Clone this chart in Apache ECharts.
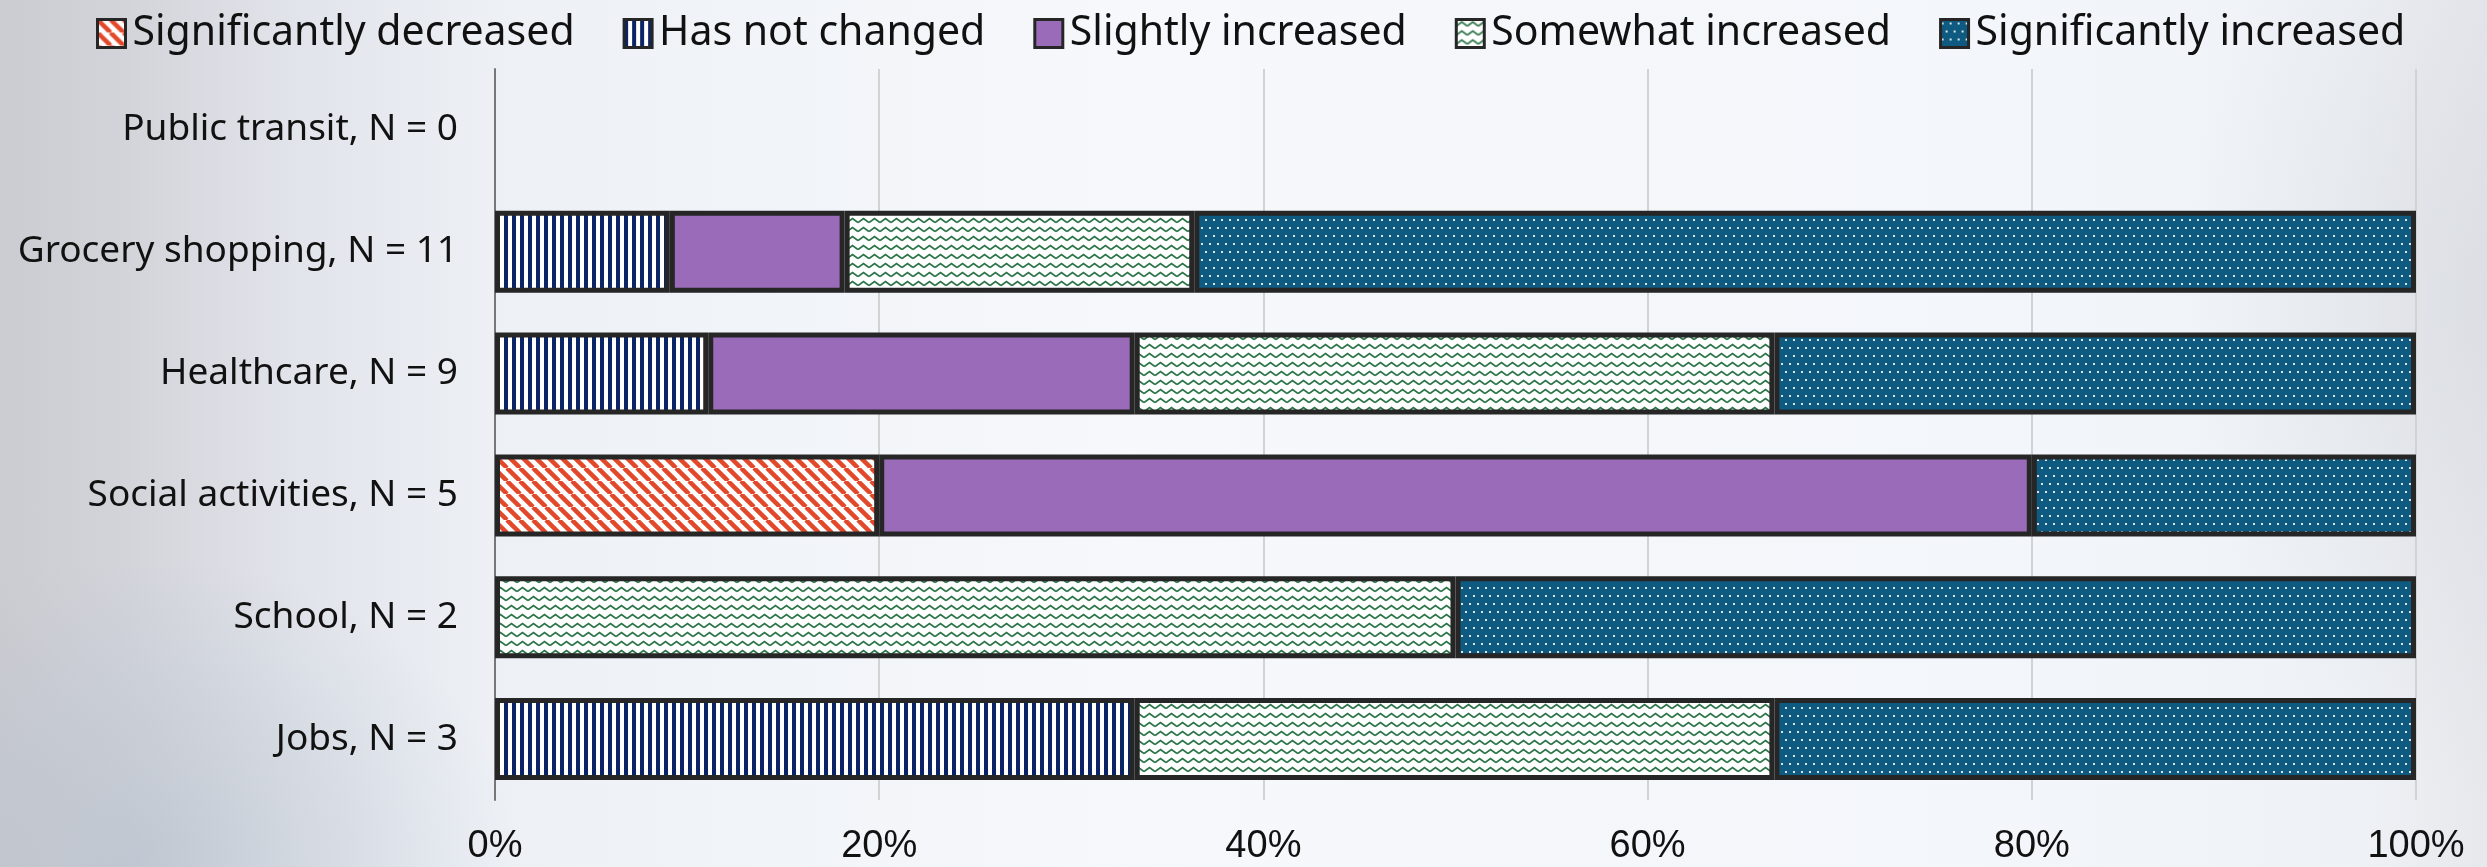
<!DOCTYPE html>
<html>
<head>
<meta charset="utf-8">
<title>Change in trips</title>
<script src="https://cdn.jsdelivr.net/npm/echarts@6/dist/echarts.min.js"></script>
<style>
    html, body { margin: 0; padding: 0; width: 2487px; height: 867px; overflow: hidden; }
    body {
        background:
            radial-gradient(ellipse 380px 300px at 140px 860px, rgba(170, 182, 198, 0.45), rgba(170, 182, 198, 0)),
            radial-gradient(ellipse 300px 500px at 2487px 300px, rgba(215, 218, 224, 0.7), rgba(215, 218, 224, 0)),
            linear-gradient(90deg, #cbccd1 0%, #d2d4da 5%, #e1e4ea 12%, #edf1f6 20%, #f6f8fb 45%, #f3f6fa 80%, #eef1f5 95%, #e6e8ec 100%);
    }
    #chart { width: 2487px; height: 867px; }
</style>
</head>
<body>
<div id="chart"></div>
<script>
// categories, top to bottom
var categories = ["Public transit, N = 0", "Grocery shopping, N = 11", "Healthcare, N = 9",
    "Social activities, N = 5", "School, N = 2", "Jobs, N = 3"];
var seriesNames = ["Significantly decreased", "Has not changed", "Slightly increased",
    "Somewhat increased", "Significantly increased"];

// share of answers in %
var sigDecreased = [0, 0, 0, 20, 0, 0];
var notChanged = [0, 9.1, 11.1, 0, 0, 33.3];
var slightlyIncreased = [0, 9.1, 22.2, 60, 0, 0];
var somewhatIncreased = [0, 18.2, 33.3, 0, 50, 33.3];
var sigIncreased = [0, 63.6, 33.4, 20, 50, 33.4];

var xTicks = [0, 20, 40, 60, 80, 100];

/**
 * build a small canvas tile used as a repeating fill
 */
function makeTile(w, h, draw) {
    var c = document.createElement("canvas");
    c.width = w;
    c.height = h;
    draw(c.getContext("2d"), w, h);
    return { image: c, repeat: "repeat" };
}

// wide downward diagonal, orange on white
var patDecreased = makeTile(13, 13, function (ctx, w, h) {
    ctx.fillStyle = "#ffffff";
    ctx.fillRect(0, 0, w, h);
    ctx.strokeStyle = "#e2492a";
    ctx.lineWidth = 4.5;
    [-w, 0, w].forEach(function (k) {
        ctx.beginPath();
        ctx.moveTo(k, 0);
        ctx.lineTo(k + w, h);
        ctx.stroke();
    });
});
// vertical navy stripes
var patNoChange = makeTile(8, 4, function (ctx, w, h) {
    ctx.fillStyle = "#ffffff";
    ctx.fillRect(0, 0, w, h);
    ctx.fillStyle = "#0b2466";
    ctx.fillRect(0, 0, 4, h);
});
// green zigzag on white
var patSomewhat = makeTile(11, 9, function (ctx, w, h) {
    ctx.fillStyle = "#ffffff";
    ctx.fillRect(0, 0, w, h);
    ctx.strokeStyle = "#2a7447";
    ctx.lineWidth = 1.8;
    ctx.beginPath();
    ctx.moveTo(0, 6.5);
    ctx.lineTo(w / 2, 2.5);
    ctx.lineTo(w, 6.5);
    ctx.stroke();
});
// small white dots on dark teal
var patSigInc = makeTile(8, 16, function (ctx, w, h) {
    ctx.fillStyle = "#0f5a80";
    ctx.fillRect(0, 0, w, h);
    ctx.fillStyle = "rgba(255,255,255,0.85)";
    ctx.fillRect(1, 3, 2, 2);
    ctx.fillRect(5, 11, 2, 2);
});

var fills = [patDecreased, patNoChange, "#996bb9", patSomewhat, patSigInc];
var values = [sigDecreased, notChanged, slightlyIncreased, somewhatIncreased, sigIncreased];

var series = seriesNames.map(function (name, i) {
    return {
        name: name,
        type: "bar",
        stack: "total",
        barWidth: 82,
        // empty cells are not drawn at all
        data: values[i].map(function (v) { return v === 0 ? "-" : v; }),
        itemStyle: { color: fills[i], borderColor: "#262626", borderWidth: 5 },
        emphasis: { disabled: true }
    };
});

var chart = echarts.init(document.getElementById("chart"), null, { renderer: "canvas" });
chart.setOption({
    animation: false,
    backgroundColor: "transparent",
    legend: {
        data: seriesNames,
        top: 8,
        left: 91,
        icon: "rect",
        itemWidth: 28,
        itemHeight: 28,
        itemGap: 48,
        itemStyle: { borderColor: "#262626", borderWidth: 3 },
        textStyle: { fontFamily: "Noto Sans", fontSize: 41, color: "#111111", padding: [0, 0, 0, 2] }
    },
    grid: { left: 495, right: 71, top: 69, bottom: 67, containLabel: false },
    xAxis: {
        type: "value",
        min: xTicks[0],
        max: xTicks[xTicks.length - 1],
        interval: xTicks[1] - xTicks[0],
        axisLine: { show: false },
        axisTick: { show: false },
        splitLine: { lineStyle: { color: "#d2d2d2", width: 2 } },
        axisLabel: {
            formatter: "{value}%",
            fontFamily: "Liberation Sans Narrow, Liberation Sans, sans-serif",
            fontSize: 38,
            color: "#111111",
            margin: 28
        }
    },
    yAxis: {
        type: "category",
        data: categories,
        inverse: true,
        axisLine: { lineStyle: { color: "#777777", width: 2 } },
        axisTick: { show: false },
        axisLabel: { fontFamily: "Noto Sans", fontSize: 37, color: "#111111", margin: 37 }
    },
    series: series
});
</script>
</body>
</html>
